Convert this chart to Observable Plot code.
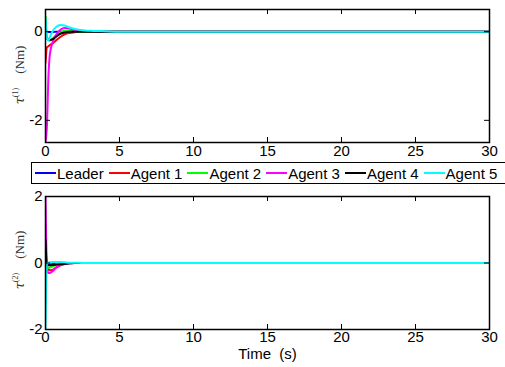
<!DOCTYPE html>
<html><head><meta charset="utf-8">
<script src="https://cdn.jsdelivr.net/npm/d3@7"></script>
<script src="https://cdn.jsdelivr.net/npm/@observablehq/plot@0.6"></script>
<style>
html,body{margin:0;padding:0;background:#fff}
#chart{position:relative;width:505px;height:367px;overflow:hidden;font-family:"Liberation Sans",Arial,sans-serif}
.panel{position:absolute;left:0}
#legend{position:absolute;left:31px;top:162px;width:473px;height:20px;border:1px solid #000;box-sizing:content-box;display:flex;align-items:center;font-size:15px;white-space:nowrap;background:#fff}
.item{display:flex;align-items:center;margin-right:5px}
.item:first-child{margin-left:3px}
.sw{display:inline-block;width:21px;height:2px;margin-right:1px}
</style>
</head><body>
<div id="chart"></div>
<script>
// ---- data ----
const names = ["Leader", "Agent 1", "Agent 2", "Agent 3", "Agent 4", "Agent 5"];
const colors = ["#0000ff", "#ff0000", "#00ff00", "#ff00ff", "#000000", "#00ffff"];
const t = [0, 0.1, 0.2, 0.3, 0.5, 0.7, 1, 1.3, 1.6, 2, 2.5, 3, 4, 5, 30];
const xTicks = [0, 5, 10, 15, 20, 25, 30];

// tau(1)
const tau1Leader = [0, 0, -0.01, -0.01, -0.01, 0, 0, 0, 0, 0, 0, 0, 0, 0, 0];
const tau1Agent1 = [-0.7, -0.35, -0.33, -0.3, -0.26, -0.2, -0.12, -0.06, -0.03, -0.01, 0, 0, 0, 0, 0];
const tau1Agent2 = [0.35, -0.1, -0.2, -0.2, -0.15, -0.08, -0.02, 0.02, 0.02, 0.01, 0, 0, 0, 0, 0];
const tau1Agent3 = [-2.5, -2.1, -1.0, -0.5, -0.22, -0.08, 0.04, 0.08, 0.07, 0.04, 0.02, 0.01, 0, 0, 0];
const tau1Agent4 = [-0.1, -0.15, -0.18, -0.19, -0.17, -0.12, -0.05, -0.02, 0, 0, 0, 0, 0, 0, 0];
const tau1Agent5 = [0.3, -0.15, -0.2, -0.12, 0.02, 0.1, 0.15, 0.14, 0.1, 0.06, 0.03, 0.02, 0.01, 0, 0];

// tau(2)
const tau2Leader = [0, -0.03, -0.05, -0.04, -0.03, -0.01, 0, 0, 0, 0, 0, 0, 0, 0, 0];
const tau2Agent1 = [0.3, -0.15, -0.2, -0.22, -0.2, -0.14, -0.07, -0.03, -0.01, 0, 0, 0, 0, 0, 0];
const tau2Agent2 = [0.4, -0.1, -0.15, -0.13, -0.1, -0.04, -0.01, 0, 0, 0, 0, 0, 0, 0, 0];
const tau2Agent3 = [2.0, -0.15, -0.3, -0.3, -0.24, -0.15, -0.07, -0.03, -0.01, 0, 0, 0, 0, 0, 0];
const tau2Agent4 = [0.7, -0.05, -0.07, -0.07, -0.06, -0.05, -0.04, -0.02, -0.01, 0, 0, 0, 0, 0, 0];
const tau2Agent5 = [-2.0, 0, 0.01, 0.02, 0.03, 0.03, 0.03, 0.02, 0.01, 0.01, 0, 0, 0, 0, 0];

const tau1 = [tau1Leader, tau1Agent1, tau1Agent2, tau1Agent3, tau1Agent4, tau1Agent5];
const tau2 = [tau2Leader, tau2Agent1, tau2Agent2, tau2Agent3, tau2Agent4, tau2Agent5];

const W = 505, mL = 45, mR = 16;

function panel(series, yDomain, yTicks, height, marginTop, marginBottom, xPad, extra) {
  const pw = W - mL - mR, ph = height - marginTop - marginBottom;
  const rows = [];
  names.forEach((n, i) => t.forEach((tt, j) => rows.push({name: n, t: tt, v: series[i][j]})));
  return Plot.plot({
    width: W, height, marginLeft: mL, marginRight: mR, marginTop, marginBottom,
    x: {domain: [0, 30]},
    y: {domain: yDomain},
    color: {domain: names, range: colors},
    style: {fontFamily: '"Liberation Sans", Arial, sans-serif', fontSize: "15px", color: "#000", background: "transparent", overflow: "visible"},
    marks: [
      Plot.lineY(rows, {x: "t", y: "v", z: "name", stroke: "name", strokeWidth: 2, curve: "monotone-x", clip: true}),
      Plot.tickX(xTicks, {x: d => d, insetTop: ph - 5, stroke: "#000", strokeWidth: 1}),
      Plot.tickX(xTicks, {x: d => d, insetBottom: ph - 5, stroke: "#000", strokeWidth: 1}),
      Plot.tickY(yTicks, {y: d => d, insetRight: pw - 5, stroke: "#000", strokeWidth: 1}),
      Plot.tickY(yTicks, {y: d => d, insetLeft: pw - 5, stroke: "#000", strokeWidth: 1}),
      Plot.frame({stroke: "#000", strokeWidth: 1.5}),
      Plot.axisX({ticks: xTicks, tickSize: 0, tickPadding: xPad, label: null}),
      Plot.axisY({ticks: yTicks, tickSize: 0, tickPadding: 3, label: null, tickFormat: d => d < 0 ? "-" + Math.abs(d) : String(d)}),
      ...(extra || [])
    ]
  });
}

function addYLabel(svg, idx, cx, cy) {
  const g = d3.select(svg).append("text")
    .attr("transform", `translate(${cx},${cy}) rotate(-90)`)
    .attr("text-anchor", "middle")
    .attr("font-family", '"Liberation Serif", "Times New Roman", serif')
    .attr("font-size", 13)
    .attr("fill", "#333");
  g.append("tspan").attr("font-size", 13).attr("font-family", '"DejaVu Serif", serif').attr("font-style", "italic").text("τ");
  g.append("tspan").attr("font-size", 8).attr("dy", -6).text("(" + idx + ")");
  g.append("tspan").attr("dy", 6).attr("dx", 14).text("(Nm)");
}

const chart = document.getElementById("chart");

const p1 = panel(tau1, [-2.5, 0.5], [-2, 0], 162, 9, 20, 3);
p1.classList.add("panel"); p1.style.top = "0px";
addYLabel(p1, 1, 24, 75);
chart.appendChild(p1);

const p2 = panel(tau2, [-2, 2], [-2, 0, 2], 181, 10, 38, 2, [
  Plot.text(["Time  (s)"], {frameAnchor: "bottom", dy: 29, fontSize: 15, fill: "#000"})
]);
p2.classList.add("panel"); p2.style.top = "186px";
addYLabel(p2, 2, 24, 74);
chart.appendChild(p2);

// legend
const legend = document.createElement("div");
legend.id = "legend";
names.forEach((n, i) => {
  const it = document.createElement("span");
  it.className = "item";
  const sw = document.createElement("span");
  sw.className = "sw"; sw.style.background = colors[i];
  const tx = document.createElement("span");
  tx.textContent = n;
  it.appendChild(sw); it.appendChild(tx);
  legend.appendChild(it);
});
chart.appendChild(legend);
</script>
</body></html>
